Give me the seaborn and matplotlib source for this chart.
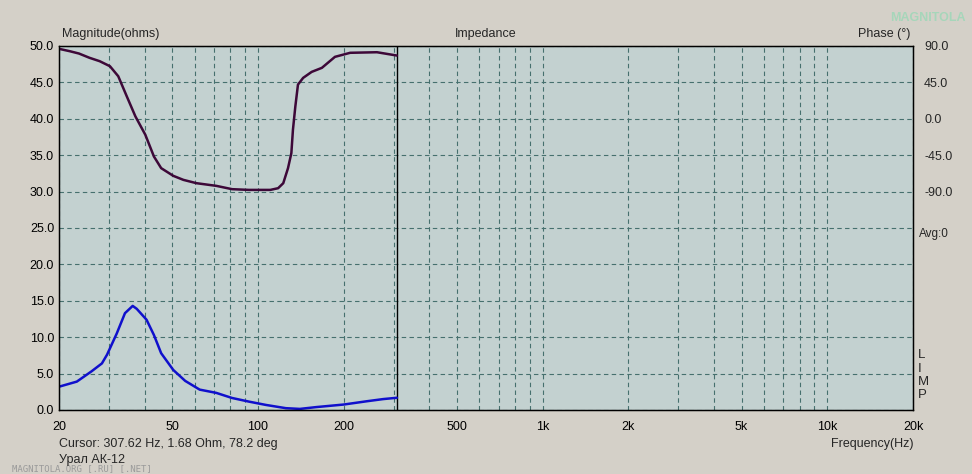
import matplotlib
matplotlib.use('Agg')
import matplotlib.pyplot as plt
import matplotlib.ticker as mticker
import seaborn as sns
import pandas as pd

# impedance magnitude (ohms)
mag_freq = [20, 23.1, 26.0, 28.3, 29.5, 31.9, 34.1, 36.3, 37.5, 40.6, 43.1, 45.7,
            50.4, 55.5, 62.4, 71.4, 81.1, 93.0, 106.5, 125.3, 140.3, 160.3, 200,
            241, 275.5, 307.62]
mag_ohm = [3.2, 3.9, 5.3, 6.4, 7.6, 10.5, 13.3, 14.3, 13.9, 12.4, 10.3, 7.8,
           5.5, 4.0, 2.8, 2.35, 1.65, 1.15, 0.7, 0.25, 0.15, 0.4, 0.75,
           1.2, 1.5, 1.68]

# phase (deg)
ph_freq = [20, 21.8, 23.5, 25.6, 27.8, 30.2, 32.3, 34.6, 37.1, 40.2, 43.1, 45.7,
           50.4, 54.7, 60.8, 71.4, 81.1, 93.0, 110.5, 117.7, 122.7, 127.5, 131.0,
           132.7, 135.3, 138.2, 144.1, 154.4, 167.7, 186.4, 210.8, 261.8, 307.62]
ph_deg = [86.5, 83.6, 80.7, 75.4, 71.2, 65, 52.6, 27.8, 3.0, -19.7, -46.6, -61,
          -70.5, -75.5, -79.6, -82.9, -87, -87.9, -87.9, -85.8, -79.6, -61, -42.4,
          -13.5, 15.4, 42.3, 50.6, 58.0, 63, 76.6, 81.6, 82.3, 78.2]

x_ticks = [20, 50, 100, 200, 500, 1000, 2000, 5000, 10000, 20000]
x_labels = ['20', '50', '100', '200', '500', '1k', '2k', '5k', '10k', '20k']
mag_ticks = [0, 5, 10, 15, 20, 25, 30, 35, 40, 45, 50]
ph_ticks = [90, 45, 0, -45, -90]
cursor_hz = 307.62

mag_df = pd.DataFrame({'freq': mag_freq, 'ohm': mag_ohm})
ph_df = pd.DataFrame({'freq': ph_freq, 'deg': ph_deg})

sns.set_style('white')
plt.rcParams['font.family'] = ['Liberation Sans', 'DejaVu Sans']

bg = '#d4d0c8'
grid_c = '#46706e'
fig = plt.figure(figsize=(9.72, 4.74), dpi=100, facecolor=bg)
ax = fig.add_axes([59 / 972, 1 - 410 / 474, (913 - 59) / 972, (410 - 46) / 474])
ax.set_facecolor('#c3d1d0')

ax.set_xscale('log')
ax.set_xlim(20, 20000)
ax.set_ylim(0, 50)

# grid
ax.set_yticks(mag_ticks)
ax.yaxis.set_major_formatter(mticker.FormatStrFormatter('%.1f'))
ax.set_xticks(x_ticks)
ax.set_xticklabels(x_labels)
ax.xaxis.set_minor_locator(mticker.LogLocator(base=10, subs=range(1, 10), numticks=50))
ax.xaxis.set_minor_formatter(mticker.NullFormatter())
ax.grid(True, which='both', axis='x', color=grid_c, ls=(0, (4, 3)), lw=0.8)
ax.grid(True, which='major', axis='y', color=grid_c, ls=(0, (4, 3)), lw=0.8)
ax.tick_params(which='both', length=0, labelsize=9, colors='black')
ax.tick_params(axis='x', pad=8)
for s in ax.spines.values():
    s.set_color('black')
    s.set_linewidth(1)

ax.axvline(cursor_hz, color='black', lw=1)

sns.lineplot(data=mag_df, x='freq', y='ohm', ax=ax, color='#1010cc', lw=1.8)
ax.set_xlabel('')
ax.set_ylabel('')

ax2 = ax.twinx()
ax2.set_ylim(-360, 90)
sns.lineplot(data=ph_df, x='freq', y='deg', ax=ax2, color='#3d0838', lw=1.8)
ax2.set_yticks(ph_ticks)
ax2.yaxis.set_major_formatter(mticker.FormatStrFormatter('%.1f'))
ax2.tick_params(length=0, labelsize=9, pad=8)
ax2.set_ylabel('')
ax2.set_xlabel('')
for s in ax2.spines.values():
    s.set_color('black')

# texts around the plot
fig.text(62 / 972, 1 - 34 / 474, 'Magnitude(ohms)', fontsize=9, va='center')
fig.text(486 / 972, 1 - 34 / 474, 'Impedance', fontsize=9, va='center', ha='center')
fig.text(910 / 972, 1 - 34 / 474, 'Phase (°)', fontsize=9, va='center', ha='right')
fig.text(966 / 972, 1 - 18 / 474, 'MAGNITOLA', fontsize=9, va='center', ha='right',
         color='#a6d6ba', fontweight='bold')
fig.text(919 / 972, 1 - 234 / 474, 'Avg:0', fontsize=8.5, va='center')
for i, ch in enumerate('LIMP'):
    fig.text(918 / 972, 1 - (355 + i * 13.5) / 474, ch, fontsize=9.5, va='center')
fig.text(913 / 972, 1 - 444 / 474, 'Frequency(Hz)', fontsize=9, va='center', ha='right')
fig.text(59 / 972, 1 - 444 / 474, 'Cursor: 307.62 Hz, 1.68 Ohm, 78.2 deg', fontsize=9, va='center')
fig.text(12 / 972, 1 - 469 / 474, 'MAGNITOLA.ORG [.RU] [.NET]', fontsize=6.5, va='center',
         color='#9a9a9a', family='DejaVu Sans Mono')
fig.text(59 / 972, 1 - 460 / 474, 'Урал АК-12', fontsize=9, va='center')

fig.savefig('out.png', dpi=100, facecolor=bg)
